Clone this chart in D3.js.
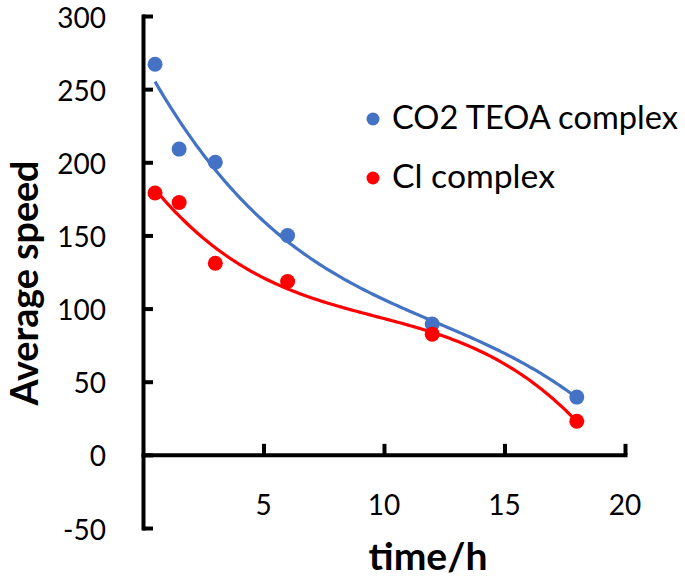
<!DOCTYPE html>
<html>
<head>
<meta charset="utf-8">
<script src="https://cdn.jsdelivr.net/npm/d3@7/dist/d3.min.js"></script>
<style>
  html, body { margin: 0; padding: 0; background: #fff; }
  svg { display: block; }
  text { font-family: Lato, "Open Sans", "DejaVu Sans", sans-serif; fill: #000; }
</style>
</head>
<body>
<svg id="chart" width="685" height="581"></svg>
<script>
// ---- data ----
const timeH = [0.5, 1.5, 3, 6, 12, 18];
const co2TeoaSpeed = [267, 209, 200, 150, 89.5, 39.5];
const clSpeed = [179, 172.5, 131, 118.5, 82.5, 23];
const seriesNames = ["CO2 TEOA complex", "Cl complex"];
const seriesColors = ["#4472C4", "#FF0000"];
const yTicks = [-50, 0, 50, 100, 150, 200, 250, 300];
const xTicks = [5, 10, 15, 20];

const svg = d3.select("#chart");
const x = d3.scaleLinear().domain([0, 20]).range([143, 625]);
const y = d3.scaleLinear().domain([-50, 300]).range([528, 16]);

function fitWidth(sel, target) {
  const w = sel.node().getComputedTextLength();
  const fs = parseFloat(sel.attr("font-size"));
  sel.attr("font-size", fs * target / w);
}

// cubic least squares trendline (Excel polynomial order 3)
function polyFit(xs, ys, order) {
  const n = order + 1;
  const A = Array.from({length: n}, () => new Array(n + 1).fill(0));
  xs.forEach((xv, k) => {
    for (let i = 0; i < n; i++) {
      for (let j = 0; j < n; j++) A[i][j] += Math.pow(xv, i + j);
      A[i][n] += ys[k] * Math.pow(xv, i);
    }
  });
  for (let c = 0; c < n; c++) {
    let p = c;
    for (let r = c + 1; r < n; r++) if (Math.abs(A[r][c]) > Math.abs(A[p][c])) p = r;
    [A[c], A[p]] = [A[p], A[c]];
    for (let r = 0; r < n; r++) {
      if (r === c) continue;
      const f = A[r][c] / A[c][c];
      for (let j = c; j <= n; j++) A[r][j] -= f * A[c][j];
    }
  }
  const coef = A.map((row, i) => row[n] / row[i]);
  return xv => coef.reduce((s, cf, i) => s + cf * Math.pow(xv, i), 0);
}

// ---- axes ----
const yAxis = d3.axisRight(y).tickValues(yTicks).tickSize(10).tickSizeOuter(0).tickFormat("");
const gy = svg.append("g").attr("transform", `translate(${x(0)},0)`).call(yAxis);
const xAxis = d3.axisTop(x).tickValues(xTicks).tickSize(11).tickSizeOuter(0).tickFormat("");
const gx = svg.append("g").attr("transform", `translate(0,${y(0)})`).call(xAxis);
[gy, gx].forEach(g => {
  g.select(".domain").attr("stroke", "#000").attr("stroke-width", 4).attr("stroke-linecap", "square");
  g.selectAll(".tick line").attr("stroke", "#000").attr("stroke-width", 4);
});

// y tick labels
const tickFs = 28;
svg.append("g").selectAll("text").data(yTicks).join("text")
  .attr("x", 106).attr("y", d => y(d) + 11.5)
  .attr("text-anchor", "end").attr("font-size", tickFs)
  .text(d => d);

// x tick labels
svg.append("g").selectAll("text").data(xTicks).join("text")
  .attr("x", d => x(d)).attr("y", 515)
  .attr("text-anchor", "middle").attr("font-size", tickFs)
  .text(d => d);

// axis titles
const xt = svg.append("text").attr("x", 428).attr("y", 570)
  .attr("text-anchor", "middle").attr("font-weight", "bold").attr("font-size", 30)
  .text("time/h");
fitWidth(xt, 119);
const yt = svg.append("text").attr("transform", "translate(38,283) rotate(-90)")
  .attr("text-anchor", "middle").attr("font-weight", "bold").attr("font-size", 30)
  .text("Average speed");
fitWidth(yt, 245);

// ---- series ----
const series = [co2TeoaSpeed, clSpeed];
const line = d3.line().x(d => x(d[0])).y(d => y(d[1])).curve(d3.curveLinear);
series.forEach((vals, si) => {
  const f = polyFit(timeH, vals, 3);
  const x0 = d3.min(timeH), x1 = d3.max(timeH);
  const pts = d3.range(0, 201).map(i => { const xv = x0 + (x1 - x0) * i / 200; return [xv, f(xv)]; });
  svg.append("path").datum(pts).attr("d", line)
    .attr("fill", "none").attr("stroke", seriesColors[si]).attr("stroke-width", 3.2);
});
series.forEach((vals, si) => {
  svg.append("g").selectAll("circle").data(timeH).join("circle")
    .attr("cx", d => x(d)).attr("cy", (d, i) => y(vals[i])).attr("r", 7.5)
    .attr("fill", seriesColors[si]);
});

// ---- legend ----
const legY = [119, 178];
const legW = [286, 163];
seriesNames.forEach((name, i) => {
  svg.append("circle").attr("cx", 373).attr("cy", legY[i]).attr("r", 6.5).attr("fill", seriesColors[i]);
  const t = svg.append("text").attr("x", 392).attr("y", legY[i] + 10)
    .attr("font-size", 28).text(name);
  fitWidth(t, legW[i]);
});
</script>
</body>
</html>
